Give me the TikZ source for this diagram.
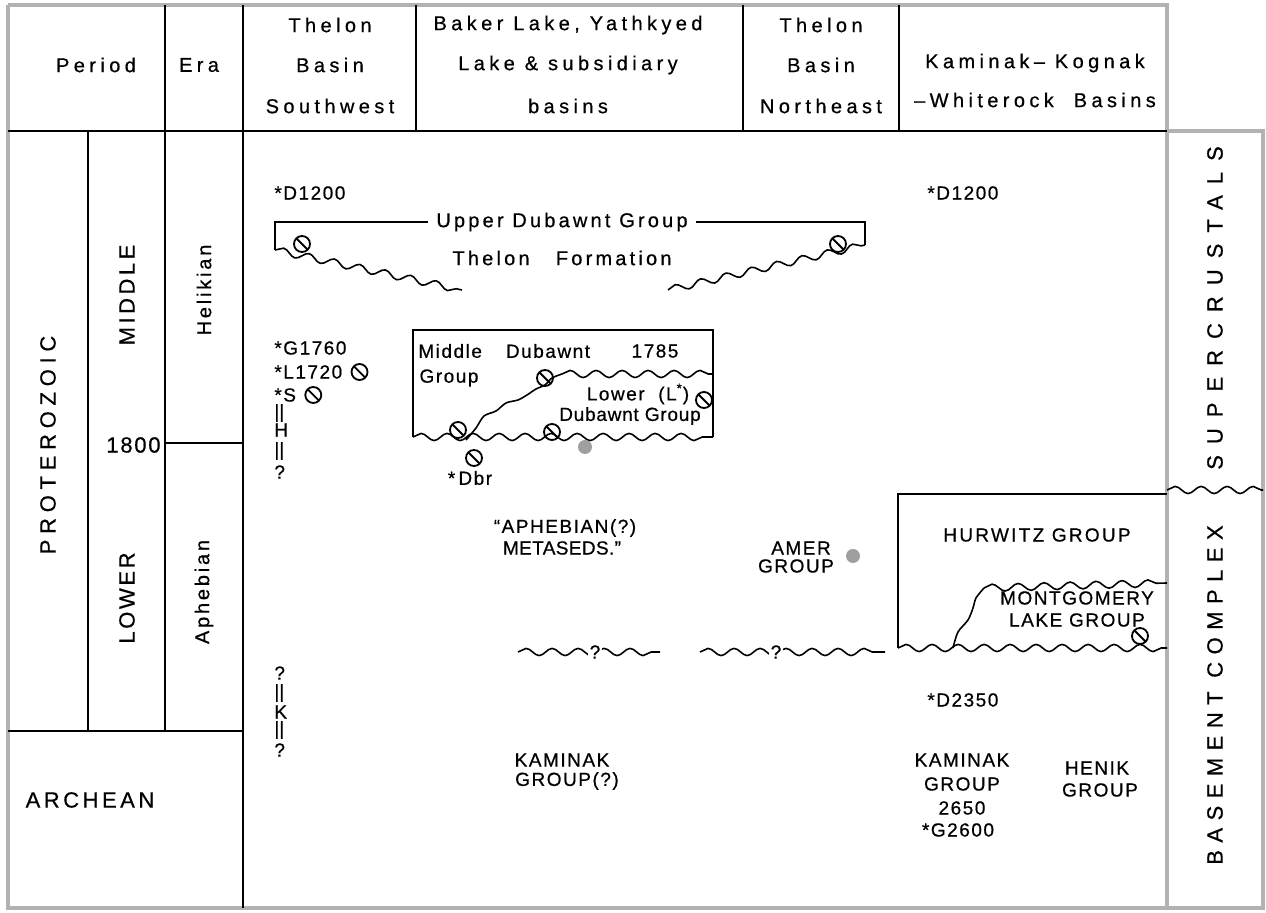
\documentclass[tikz,border=0pt]{standalone}
\usepackage{fontspec}
\setmainfont{Liberation Sans}[LetterSpace=8, FakeBold=0.6]
\usetikzlibrary{calc,positioning,decorations.pathmorphing,backgrounds}
\newcommand{\spreadtxt}[1]{\addfontfeature{LetterSpace=#1}}

\begin{document}
\begin{tikzpicture}[x=0.5pt, y=-0.5pt]
\tikzstyle{frm}=[gray!60, line width=1.6pt]
\tikzstyle{rul}=[black, line width=0.8pt]
\tikzstyle{wav}=[decorate, decoration={snake, segment length=13pt, amplitude=1.8pt}, line width=0.8pt]
\tikzstyle{lbl}=[inner sep=1pt, font=\fontsize{9.5}{11}\selectfont]
\tikzstyle{hd}=[inner sep=1pt, font=\fontsize{10}{12}\selectfont\spreadtxt{22}]
\tikzstyle{big}=[inner sep=1pt, font=\fontsize{11}{13}\selectfont]
\tikzstyle{unc}=[circle, draw, line width=0.9pt, inner sep=0pt, minimum size=8pt,
                 path picture={\draw[line width=0.9pt] (path picture bounding box.north west) -- (path picture bounding box.south east);}]
\tikzstyle{dot}=[circle, fill=gray!75, inner sep=0pt, minimum size=7pt]
\useasboundingbox (0,0) rectangle (1266,913);
% frame and rulings
\draw[frm] (8,5) -- (1167,5) -- (1167,908);
\draw[frm] (8,5) -- (8,908) -- (1263,908) -- (1263,131) -- (1167,131);
\draw[rul] (8,131) -- (1167,131);
\foreach \x in {165,243,416,743,899}{\draw[rul] (\x,5) -- (\x,131);}
\draw[rul] (88,131) -- (88,731);
\draw[rul] (165,131) -- (165,731);
\draw[rul] (243,131) -- (243,908);
\draw[rul] (165,443) -- (243,443);
\draw[rul] (8,731) -- (243,731);
\draw[wav] (1167,490) -- (1263,490);
% header
\foreach \n/\x/\y/\t in {per/96/65/Period, era/199/65/Era,
   sw1/330/25/Thelon, sw2/330/65/Basin, sw3/330/106/Southwest,
   bk1/568/25/{Baker Lake, Yathkyed}, bk2/568/65/{Lake \& subsidiary}, bk3/568/106/basins,
   ne1/821/25/Thelon, ne2/821/65/Basin, ne3/821/106/Northeast,
   km1/1035/63/{Kaminak--~Kognak}, km2/1035/100/{--Whiterock~ Basins}}
   {\node[hd] (\n) at (\x,\y) {\t};}
% time scale
\node[big, rotate=90, font=\fontsize{11}{13}\selectfont\spreadtxt{26}] (pro) at (48,445) {PROTEROZOIC};
\node[big, rotate=90, font=\fontsize{11}{13}\selectfont\spreadtxt{16}] (mid) at (127,295) {MIDDLE};
\node[big, rotate=90, font=\fontsize{11}{13}\selectfont\spreadtxt{12}] (low) at (127,598) {LOWER};
\node[lbl, anchor=east, font=\fontsize{11}{13}\selectfont] (yr) at (163,445) {1800};
\node[lbl, rotate=90, font=\fontsize{10}{12}\selectfont\spreadtxt{14}] (hel) at (204,290) {Helikian};
\node[lbl, rotate=90, font=\fontsize{10}{12}\selectfont\spreadtxt{14}] (aph) at (204,592) {Aphebian};
\node[big, font=\fontsize{11}{13}\selectfont\spreadtxt{16}] (arc) at (90,800) {ARCHEAN};
\node[big, rotate=90, font=\fontsize{11}{13}\selectfont\spreadtxt{50}] (sup) at (1215,308) {SUPERCRUSTALS};
\node[big, rotate=90, font=\fontsize{11}{13}\selectfont\spreadtxt{34}] (bas) at (1215,695) {BASEMENT COMPLEX};
% Thelon SW column
\foreach \n/\y/\t in {d1/193/*D1200, g1/348/*G1760, l1/372/*L1720, s1/395/*S, h1/430/H,
   q1/472/?, q2/673/?, k1/712/K, q3/750/?}
   {\node[lbl, anchor=west] (\n) at (272,\y) {\t};}
\foreach \n/\y in {e1/413, e2/451, e3/693, e4/730}
   {\node[lbl, anchor=west, font=\fontsize{9.5}{11}\selectfont\spreadtxt{0}] (\n) at (272,\y) {||};}
\node[unc, right=3pt of l1] (ul1) {};
\node[unc, right=3pt of s1] (us1) {};
% Upper Dubawnt
\coordinate (ubl) at (275,250);
\coordinate (ubr) at (865,245);
\draw[rul] (ubl) -- (275,222) -- (865,222) -- (ubr);
\node[lbl, fill=white, inner xsep=4pt, font=\fontsize{10}{12}\selectfont\spreadtxt{16}] (udg) at (562,222) {Upper Dubawnt Group};
\draw[wav] (ubl) -- (462,290);
\draw[wav] (668,290) -- (ubr);
\node[unc] (uu1) at (302,244) {};
\node[unc] (uu2) at (838,244) {};
\node[lbl, font=\fontsize{10}{12}\selectfont\spreadtxt{16}] (thf) at (562,258) {Thelon~~ Formation};
% Middle and Lower Dubawnt
\draw[rul] (413,437) -- (413,330) -- (713,330) -- (713,437);
\draw[wav] (413,437) -- (713,437);
\draw[rul] plot[smooth] coordinates {(466,440) (476,428) (484,416) (496,411) (506,403) (518,400) (527,395) (536,389) (545,385) (552,378) (562,374)};
\draw[wav] (562,374) -- (713,374);
\node[lbl, anchor=west] (mdg) at (416,351) {Middle};
\node[lbl] (mdd) at (548,351) {Dubawnt};
\node[lbl] (myr) at (655,351) {1785};
\node[lbl] (mgr) at (449,378) {Group};
\node[lbl] (ldg) at (638,394) {Lower~ (L\textsuperscript{*})};
\node[lbl, font=\fontsize{9.5}{11}\selectfont\spreadtxt{4}] (ldd) at (630,416) {Dubawnt Group};
\foreach \n/\x/\y in {um1/545/378, um2/704/400, um3/458/430, um4/552/432, ub1/474/458}
   {\node[unc] (\n) at (\x,\y) {};}
\node[dot] (dd1) at (585,447) {};
\node[lbl] (dbr) at (470,478) {*\,Dbr};
% Aphebian
\node[lbl] (ap1) at (565,528) {``APHEBIAN(?)};
\node[lbl, font=\fontsize{9.5}{11}\selectfont\spreadtxt{2}] (ap2) at (562,548) {METASEDS.''};
\node[lbl] (am1) at (801,548) {AMER};
\node[lbl] (am2) at (796,566) {GROUP};
\node[dot] (dd2) at (853,556) {};
\draw[wav] (518,652) -- (660,652);
\node[lbl, fill=white] (qa) at (595,652) {?};
\draw[wav] (700,652) -- (885,652);
\node[lbl, fill=white] (qb) at (776,652) {?};
% Kaminak-Kognak column
\node[lbl, anchor=west] (d2) at (925,193) {*D1200};
\draw[rul] (898,648) -- (898,494) -- (1167,494);
\node[lbl, font=\fontsize{9.5}{11}\selectfont\spreadtxt{12}] (hur) at (1037,535) {HURWITZ GROUP};
\draw[rul] plot[smooth] coordinates {(953,648) (958,632) (968,620) (973,608) (976,598) (984,588)};
\draw[wav] (984,588) -- (1167,583);
\draw[wav] (898,648) -- (1167,648);
\node[lbl] (mo1) at (1077,598) {MONTGOMERY};
\node[lbl] (mo2) at (1077,620) {LAKE GROUP};
\node[unc] (um5) at (1140,636) {};
\node[lbl, anchor=west] (d3) at (925,700) {*D2350};
% Archean
\node[lbl] (ka1) at (562,760) {KAMINAK};
\node[lbl] (ka2) at (567,781) {GROUP(?)};
\node[lbl] (kb1) at (962,760) {KAMINAK};
\node[lbl] (kb2) at (962,784) {GROUP};
\node[lbl] (kb3) at (962,808) {2650};
\node[lbl] (kb4) at (958,830) {*G2600};
\node[lbl] (he1) at (1097,768) {HENIK};
\node[lbl] (he2) at (1100,790) {GROUP};
\end{tikzpicture}
\end{document}
